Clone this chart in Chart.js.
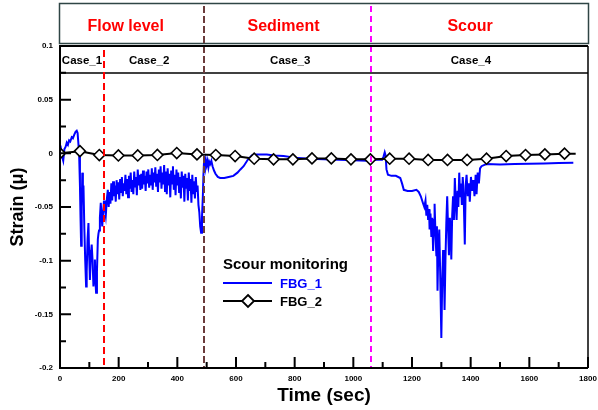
<!DOCTYPE html>
<html>
<head>
<meta charset="utf-8">
<script src="https://cdn.jsdelivr.net/npm/chart.js@4"></script>
<style>
  html, body { margin: 0; padding: 0; background: #fff; }
</style>
</head>
<body>
<canvas id="myChart" width="598" height="410"></canvas>
<script>
// FBG_1 (blue)
const fbg1Time = [
    0, 4, 8, 11, 15, 19, 23, 27, 31, 35, 40, 44, 48, 53, 57, 60, 63, 65, 68, 70,
    72, 74, 76, 78, 80, 83, 86, 89, 91, 94, 97, 99, 102, 105, 108, 111, 114, 117, 119, 121,
    123, 126, 129, 131, 133, 136, 139, 142, 144, 147, 150, 153, 156, 160,
    163, 166, 169, 172, 175, 178, 181, 184, 187, 190, 193, 196, 199, 202, 205, 208, 211, 214, 217, 220,
    223, 226, 229, 232, 235, 238, 241, 244, 247, 250, 253, 256, 259, 262, 265, 268, 271, 274, 277, 280,
    283, 286, 289, 292, 295, 298, 301, 304, 307, 310, 313, 316, 319, 322, 325, 328, 331, 334, 337, 340,
    343, 346, 349, 352, 355, 358, 361, 364, 367, 370, 373, 376, 379, 382, 385, 388, 391, 394, 397, 400,
    403, 406, 409, 412, 415, 418, 421, 424, 427, 430, 433, 436, 439, 442, 445, 448, 451, 454, 457, 460,
    463, 466, 469, 472, 475, 478, 481, 484, 487, 489, 491, 494, 497, 500, 503, 506, 509, 512, 516, 520,
    525, 530, 538, 546, 560, 575, 591, 605, 615, 626, 640, 654, 670, 705, 730, 762, 800, 850, 900, 950,
    1000, 1047, 1080, 1098, 1103, 1107, 1110, 1113, 1118, 1130, 1145, 1160, 1166, 1172, 1185, 1200, 1215, 1223, 1230, 1237,
    1242, 1246, 1249, 1252, 1255, 1258, 1260, 1263, 1266, 1269, 1272, 1275, 1277, 1280, 1283, 1285, 1287, 1290, 1293, 1296,
    1300, 1303, 1306, 1309, 1311, 1314, 1317, 1320, 1323, 1326, 1329, 1332, 1334, 1337, 1340, 1343, 1346, 1349, 1352, 1355,
    1358, 1361, 1364, 1367, 1370, 1373, 1376, 1380, 1383, 1386, 1390, 1394, 1397, 1401, 1405, 1409, 1413, 1417, 1420, 1424,
    1428, 1432, 1437, 1445, 1454, 1500, 1550, 1600, 1650, 1700, 1750
];
const fbg1Strain = [
    -0.002, 0.003, -0.004, -0.007, 0.004, 0.006, 0.010, 0.008, 0.012, 0.011, 0.015, 0.014, 0.017, 0.020, 0.021, 0.019, 0.008, 0.001, -0.030, -0.060,
    -0.086, -0.050, -0.018, -0.035, -0.030, -0.070, -0.100, -0.124, -0.110, -0.080, -0.065, -0.090, -0.118, -0.095, -0.085, -0.100, -0.124, -0.110, -0.099, -0.120,
    -0.130, -0.110, -0.080, -0.075, -0.072, -0.060, -0.046, -0.060, -0.068, -0.055, -0.044, -0.052, -0.058, -0.042,
    -0.034, -0.050, -0.036, -0.047, -0.028, -0.044, -0.026, -0.040, -0.030, -0.045, -0.025, -0.038, -0.027, -0.043, -0.024, -0.036, -0.022, -0.040, -0.028, -0.035,
    -0.020, -0.038, -0.024, -0.041, -0.021, -0.033, -0.018, -0.036, -0.025, -0.038, -0.017, -0.031, -0.022, -0.039, -0.015, -0.030, -0.020, -0.034, -0.019, -0.033,
    -0.016, -0.029, -0.021, -0.035, -0.017, -0.028, -0.015, -0.032, -0.020, -0.030, -0.014, -0.034, -0.018, -0.027, -0.013, -0.031, -0.019, -0.036, -0.015, -0.027,
    -0.012, -0.033, -0.018, -0.029, -0.011, -0.035, -0.017, -0.038, -0.014, -0.030, -0.019, -0.041, -0.016, -0.028, -0.012, -0.034, -0.020, -0.039, -0.015, -0.030,
    -0.018, -0.036, -0.022, -0.042, -0.017, -0.032, -0.021, -0.045, -0.019, -0.033, -0.023, -0.044, -0.018, -0.035, -0.024, -0.046, -0.020, -0.038, -0.026, -0.042,
    -0.022, -0.036, -0.030, -0.048, -0.055, -0.068, -0.074, -0.060, -0.040, -0.020, -0.008, -0.012, -0.006, -0.011, -0.007, -0.013, -0.008, -0.010, -0.007, -0.012,
    -0.016, -0.019, -0.022, -0.023, -0.023, -0.022, -0.021, -0.018, -0.015, -0.012, -0.006, -0.002, -0.001, -0.001, -0.002, -0.0025, -0.004, -0.005, -0.0055, -0.006,
    -0.0065, -0.0068, -0.006, -0.006, -0.003, 0.001, -0.002, -0.015, -0.020, -0.021, -0.021, -0.023, -0.028, -0.034, -0.035, -0.035, -0.034, -0.036, -0.040, -0.046,
    -0.050, -0.044, -0.058, -0.048, -0.062, -0.052, -0.071, -0.056, -0.078, -0.060, -0.091, -0.062, -0.047, -0.075, -0.095, -0.068, -0.128, -0.085, -0.071, -0.110,
    -0.172, -0.120, -0.090, -0.110, -0.146, -0.100, -0.065, -0.040, -0.070, -0.095, -0.060, -0.075, -0.099, -0.058, -0.040, -0.062, -0.023, -0.045, -0.062, -0.035,
    -0.050, -0.018, -0.040, -0.028, -0.048, -0.022, -0.038, -0.085, -0.030, -0.020, -0.040, -0.028, -0.045, -0.022, -0.035, -0.025, -0.040, -0.020, -0.038, -0.018,
    -0.028, -0.014, -0.012, -0.011, -0.010, -0.0105, -0.010, -0.0098, -0.0095, -0.009, -0.0087
];

// FBG_2 (black, diamonds)
const fbg2Time = [0, 68, 134, 199, 265, 332, 398, 467, 531, 597, 662, 728, 794, 859, 925, 992, 1058, 1124, 1190, 1255, 1321, 1388, 1454, 1521, 1587, 1653, 1720, 1758];
const fbg2Strain = [0, 0.002, -0.0016, -0.002, -0.002, -0.0015, 0.0003, -0.001, -0.0016, -0.0025, -0.005, -0.0056, -0.0056, -0.0047,
    -0.0047, -0.0056, -0.0056, -0.005, -0.005, -0.0062, -0.0062, -0.0062, -0.005, -0.0025, -0.0016, -0.001, -0.0003, -0.0003];

const xTicks = [0, 200, 400, 600, 800, 1000, 1200, 1400, 1600, 1800];
const xMinorTicks = [100, 300, 500, 700, 900, 1100, 1300, 1500, 1700];
const yTicks = [-0.2, -0.15, -0.1, -0.05, 0, 0.05, 0.1];
const yMinorTicks = [-0.175, -0.125, -0.075, -0.025, 0.025, 0.075];

const phaseNames = ['Flow level', 'Sediment', 'Scour'];
const phaseCentres = [224, 762, 1398];
const phaseBounds = [150, 490, 1060];
const caseNames = ['Case_1', 'Case_2', 'Case_3', 'Case_4'];
const caseCentres = [75, 304, 785, 1401];

const FONT = '"Liberation Sans", Arial, sans-serif';
const boundColors = ['#ff0000', '#6b3b3b', '#ff00ff'];
const boundDash = [[7, 4], [7, 3], [6, 4]];

function toPoints(xs, ys) {
    return xs.map((x, i) => ({ x: x, y: ys[i] }));
}

const decorations = {
    id: 'decorations',
    afterDatasetsDraw(chart) {
        const ctx = chart.ctx;
        const area = chart.chartArea;
        const sx = chart.scales.x;
        const sy = chart.scales.y;
        ctx.save();

        // header box with phase names
        ctx.strokeStyle = '#2f4545';
        ctx.lineWidth = 1.5;
        ctx.strokeRect(59.5, 3.5, 529, 40);
        ctx.fillStyle = '#ff0000';
        ctx.font = 'bold 16px ' + FONT;
        ctx.textAlign = 'center';
        ctx.textBaseline = 'middle';
        phaseNames.forEach((name, i) => ctx.fillText(name, sx.getPixelForValue(phaseCentres[i]), 27));

        // case row inside the plot
        const caseBottom = 73;
        ctx.strokeStyle = '#000';
        ctx.lineWidth = 1.5;
        ctx.beginPath();
        ctx.moveTo(area.left, caseBottom);
        ctx.lineTo(area.right, caseBottom);
        ctx.stroke();
        ctx.fillStyle = '#000';
        ctx.font = 'bold 11.5px ' + FONT;
        caseNames.forEach((name, i) => ctx.fillText(name, sx.getPixelForValue(caseCentres[i]), 61));

        // phase boundaries
        ctx.lineWidth = 2;
        phaseBounds.forEach((t, i) => {
            const px = Math.round(sx.getPixelForValue(t));
            ctx.strokeStyle = boundColors[i];
            ctx.setLineDash(boundDash[i]);
            ctx.beginPath();
            ctx.moveTo(px, i === 0 ? area.top + 4 : 6);
            ctx.lineTo(px, area.bottom);
            ctx.stroke();
        });
        ctx.setLineDash([]);

        // frame
        ctx.strokeStyle = '#000';
        ctx.lineWidth = 2;
        ctx.beginPath();
        ctx.moveTo(area.right, area.top);
        ctx.lineTo(area.left, area.top);
        ctx.lineTo(area.left, area.bottom);
        ctx.lineTo(area.right, area.bottom);
        ctx.stroke();
        ctx.lineWidth = 1.5;
        ctx.beginPath();
        ctx.moveTo(area.right, area.top);
        ctx.lineTo(area.right, area.bottom);
        ctx.stroke();

        // inward ticks
        ctx.lineWidth = 2;
        ctx.beginPath();
        xTicks.forEach(v => {
            const px = sx.getPixelForValue(v);
            ctx.moveTo(px, area.bottom);
            ctx.lineTo(px, area.bottom - 11);
        });
        xMinorTicks.forEach(v => {
            const px = sx.getPixelForValue(v);
            ctx.moveTo(px, area.bottom);
            ctx.lineTo(px, area.bottom - 6);
        });
        yTicks.forEach(v => {
            const py = sy.getPixelForValue(v);
            ctx.moveTo(area.left, py);
            ctx.lineTo(area.left + 11, py);
        });
        yMinorTicks.forEach(v => {
            const py = sy.getPixelForValue(v);
            ctx.moveTo(area.left, py);
            ctx.lineTo(area.left + 6, py);
        });
        ctx.stroke();

        // legend
        const lx = 223;
        ctx.textAlign = 'left';
        ctx.fillStyle = '#000';
        ctx.font = 'bold 15px ' + FONT;
        ctx.fillText('Scour monitoring', lx, 265);
        const ds = chart.data.datasets;
        const rows = [ds[1], ds[0]];
        rows.forEach((d, i) => {
            const y = 283 + i * 18;
            ctx.strokeStyle = d.borderColor;
            ctx.lineWidth = 2;
            ctx.beginPath();
            ctx.moveTo(lx, y);
            ctx.lineTo(lx + 49, y);
            ctx.stroke();
            if (d.pointStyle === 'rectRot') {
                const cx = lx + 25;
                ctx.fillStyle = '#fff';
                ctx.lineWidth = 1.8;
                ctx.beginPath();
                ctx.moveTo(cx, y - 6);
                ctx.lineTo(cx + 6, y);
                ctx.lineTo(cx, y + 6);
                ctx.lineTo(cx - 6, y);
                ctx.closePath();
                ctx.fill();
                ctx.stroke();
            }
            ctx.fillStyle = d.borderColor;
            ctx.font = 'bold 13px ' + FONT;
            ctx.fillText(d.label, lx + 57, y + 1);
        });

        ctx.restore();
    }
};

const tickFont = { family: FONT, size: 8, weight: 'bold' };

const config = {
    type: 'line',
    data: {
        datasets: [{
            label: 'FBG_2',
            data: toPoints(fbg2Time, fbg2Strain),
            borderColor: '#000000',
            borderWidth: 2,
            pointStyle: 'rectRot',
            pointRadius: ctx => ctx.dataIndex === fbg2Time.length - 1 ? 0 : 5.5,
            pointBackgroundColor: '#ffffff',
            pointBorderColor: '#000000',
            pointBorderWidth: 1.6,
            tension: 0,
            order: 1
        }, {
            label: 'FBG_1',
            data: toPoints(fbg1Time, fbg1Strain),
            borderColor: '#0000ff',
            borderWidth: 2,
            pointRadius: 0,
            tension: 0,
            order: 2
        }]
    },
    options: {
        responsive: false,
        animation: false,
        devicePixelRatio: 1,
        layout: { padding: { top: 46, right: 10, left: 0, bottom: 0 } },
        plugins: {
            legend: { display: false },
            tooltip: { enabled: false }
        },
        scales: {
            x: {
                type: 'linear',
                min: 0,
                max: 1800,
                afterBuildTicks: s => { s.ticks = xTicks.map(v => ({ value: v })); },
                afterFit: s => { s.height = 42; s.paddingLeft = 0; s.paddingRight = 0; },
                grid: { display: false, drawTicks: false },
                border: { display: false },
                ticks: {
                    font: tickFont,
                    color: '#000',
                    padding: 6,
                    maxRotation: 0,
                    autoSkip: false,
                    callback: v => String(v)
                },
                title: {
                    display: true,
                    text: 'Time (sec)',
                    color: '#000',
                    font: { family: FONT, size: 19, weight: 'bold' },
                    padding: { top: 0, bottom: 3 }
                }
            },
            y: {
                type: 'linear',
                min: -0.2,
                max: 0.1,
                afterBuildTicks: s => { s.ticks = yTicks.map(v => ({ value: v })); },
                afterFit: s => { s.width = 60; s.paddingTop = 0; s.paddingBottom = 0; },
                grid: { display: false, drawTicks: false },
                border: { display: false },
                ticks: {
                    font: tickFont,
                    color: '#000',
                    padding: 7,
                    autoSkip: false,
                    callback: v => String(parseFloat(Number(v).toFixed(3)))
                },
                title: {
                    display: true,
                    text: 'Strain (\u03bc)',
                    color: '#000',
                    font: { family: FONT, size: 18, weight: 'bold' },
                    padding: { top: 7, bottom: 0 }
                }
            }
        }
    },
    plugins: [decorations]
};

const myChart = new Chart(document.getElementById('myChart'), config);
</script>
</body>
</html>
